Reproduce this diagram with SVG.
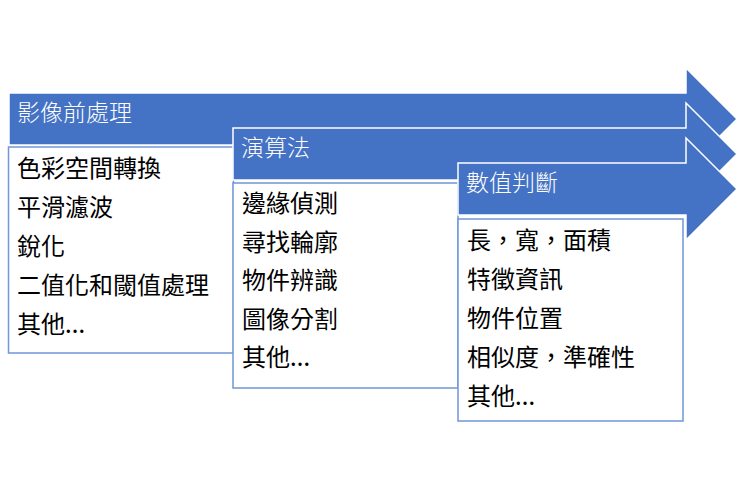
<svg xmlns="http://www.w3.org/2000/svg" width="740" height="487" viewBox="0 0 740 487">
<style>
.arrow{fill:#4472C4;stroke:#FFFFFF;stroke-width:1.5;stroke-linejoin:miter}
.box{fill:#FFFFFF;stroke:#7096D8;stroke-width:1.5}
.hd{font-family:"Noto Sans CJK TC","Noto Sans CJK SC",sans-serif;font-size:23px;font-weight:300;fill:#FFFFFF}
.it{font-family:"Liberation Serif","Noto Sans CJK TC",serif;font-size:24px;fill:#000000}
.el{font-weight:bold;font-size:20px}
</style>
<rect width="740" height="487" fill="#FFFFFF"/>
<g id="connectors"></g>
<g id="stage1">
<path class="arrow" d="M9,93 H686 V68 L737,119 L686,170 V145 H9 Z"/>
<text class="hd" x="17" y="121">影像前處理</text>
<rect class="box" x="8.5" y="147" width="225" height="206"/>
<text class="it" x="17" y="177">色彩空間轉換</text>
<text class="it" x="17" y="216">平滑濾波</text>
<text class="it" x="17" y="255">銳化</text>
<text class="it" x="17" y="294">二值化和閾值處理</text>
<text class="it" x="17" y="333">其他<tspan class="el">…</tspan></text>
</g>
<g id="stage2">
<path class="arrow" d="M233,128 H686 V103 L737,154 L686,205 V180 H233 Z"/>
<text class="hd" x="241" y="156">演算法</text>
<rect class="box" x="233" y="183" width="225" height="205"/>
<text class="it" x="242" y="212">邊緣偵測</text>
<text class="it" x="242" y="251">尋找輪廓</text>
<text class="it" x="242" y="289">物件辨識</text>
<text class="it" x="242" y="328">圖像分割</text>
<text class="it" x="242" y="366">其他<tspan class="el">…</tspan></text>
</g>
<g id="stage3">
<path class="arrow" d="M458,163 H686 V138 L737,189 L686,240 V215 H458 Z"/>
<text class="hd" x="466" y="191">數值判斷</text>
<rect class="box" x="458" y="219" width="225" height="202"/>
<text class="it" x="467" y="249">長，寬，面積</text>
<text class="it" x="467" y="288">特徵資訊</text>
<text class="it" x="467" y="327">物件位置</text>
<text class="it" x="467" y="366">相似度，準確性</text>
<text class="it" x="467" y="405">其他<tspan class="el">…</tspan></text>
</g>
</svg>
